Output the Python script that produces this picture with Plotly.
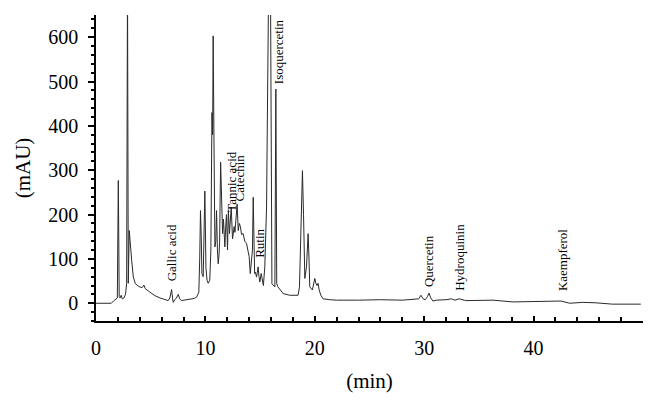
import plotly.graph_objects as go

# retention time (min) and detector signal (mAU)
time_min = [0.0, 1.4, 1.6, 1.8, 1.95, 2.04, 2.12, 2.2, 2.3, 2.4, 2.55, 2.7, 2.8, 2.88, 2.95,
            3.04, 3.15, 3.26, 3.41, 3.6, 3.9, 4.2, 4.38, 4.5, 4.93, 5.4, 5.84, 6.3, 6.6,
            6.75, 6.91, 7.0, 7.06, 7.2, 7.35, 7.52, 7.65, 7.8, 8.5, 9.0, 9.2, 9.4, 9.48,
            9.55, 9.62, 9.68, 9.8, 9.95, 10.05, 10.15, 10.26, 10.4, 10.5, 10.6, 10.66,
            10.71, 10.78, 10.87, 10.95, 11.02, 11.1, 11.17, 11.25, 11.3, 11.39, 11.48,
            11.57, 11.65, 11.78, 11.85, 11.93, 12.02, 12.1, 12.2, 12.28, 12.36, 12.48,
            12.55, 12.63, 12.7, 12.78, 12.9, 13.0, 13.1, 13.2, 13.3, 13.45, 13.6, 13.76,
            13.9, 14.0, 14.1, 14.2, 14.3, 14.37, 14.45, 14.5, 14.58, 14.67, 14.75, 14.82,
            14.9, 14.98, 15.1, 15.2, 15.3, 15.43, 15.59, 15.78, 15.95, 16.08, 16.2, 16.35,
            16.44, 16.52, 16.6, 17.1, 17.7, 18.2, 18.47, 18.6, 18.75, 18.87, 18.97, 19.09,
            19.24, 19.3, 19.39, 19.47, 19.54, 19.78, 19.9, 20.0, 20.1, 20.2, 20.3, 20.4,
            20.55, 20.76, 21.37, 22.0, 24.0, 26.0, 28.0, 29.0, 29.5, 29.7, 29.9, 30.1,
            30.3, 30.44, 30.6, 30.8, 31.1, 32.0, 32.5, 32.8, 33.2, 33.8, 35.0, 36.3, 38.1,
            40.0, 41.2, 42.5, 43.3, 44.5, 45.7, 47.2, 49.8]
signal_mau = [0, 0, 5, 10, 12, 277, 15, 12, 18, 10, 12, 20, 45, 720, 45,
              164, 120, 97, 59, 44, 38, 35, 41, 33, 25, 17, 12, 9, 6,
              12, 31, 10, 2, 8, 12, 20, 10, 6, 8, 11, 14, 25, 100,
              209, 150, 67, 60, 253, 80, 52, 45, 52, 120, 430, 380,
              603, 380, 127, 140, 209, 120, 89, 110, 140, 318, 200,
              157, 190, 127, 170, 200, 120, 209, 157, 190, 217, 145,
              165, 173, 160, 186, 224, 164, 180, 173, 155, 157, 140, 135,
              115, 105, 67, 89, 120, 239, 110, 67, 70, 59, 70, 82,
              60, 48, 67, 50, 40, 82, 217, 720, 720, 44, 40, 37,
              483, 45, 38, 22, 18, 17, 18, 37, 200, 299, 200, 56,
              82, 120, 157, 100, 37, 30, 45, 56, 45, 40, 45, 30,
              18, 10, 8, 7, 7, 8, 7, 8, 10, 18, 10, 8,
              15, 23, 12, 5, 7, 8, 10, 7, 10, 6, 7, 7, 3,
              4, 3, 5, 0, 2, 1, -2, -2]

# peak labels: name, time, height of the label's base
peak_names = ["Gallic acid", "Tannic acid", "Catechin", "Rutin", "Isoquercetin",
              "Quercetin", "Hydroquinin", "Kaempferol"]
peak_time = [6.9, 12.4, 13.2, 15.0, 16.7, 30.4, 33.2, 42.6]
peak_label_base = [45, 202, 225, 97, 490, 31, 23, 23]

x_ticks = [0, 10, 20, 30, 40]

serif = "Liberation Serif"

fig = go.Figure()
fig.add_trace(go.Scatter(x=time_min, y=signal_mau, mode="lines",
                         line=dict(color="#2a2a2a", width=1), showlegend=False))

for name, t, yb in zip(peak_names, peak_time, peak_label_base):
    fig.add_annotation(x=t, y=yb, text=name, textangle=-90, showarrow=False,
                       xanchor="center", yanchor="bottom",
                       font=dict(family=serif, size=13, color="black"))

fig.update_layout(
    width=657, height=400,
    margin=dict(l=96, r=14, t=15, b=79),
    plot_bgcolor="white", paper_bgcolor="white",
    font=dict(family=serif, color="black"),
    xaxis=dict(range=[0, 50], tickvals=x_ticks, showgrid=False, zeroline=False,
               showline=True, linecolor="black", linewidth=1.5, automargin=False,
               ticks="inside", ticklen=5, tickcolor="black", tickwidth=1.5,
               minor=dict(dtick=2, tick0=0, ticks="inside", ticklen=4,
                          tickcolor="black", tickwidth=1.5),
               tickfont=dict(family=serif, size=20), ticklabelstandoff=8,
               title=dict(text="(min)", font=dict(family=serif, size=21), standoff=16)),
    yaxis=dict(range=[-40, 650], dtick=100, tick0=0, showgrid=False, zeroline=False,
               showline=True, linecolor="black", linewidth=1.5, automargin=False,
               ticks="outside", ticklen=6, tickcolor="black", tickwidth=1.5,
               minor=dict(dtick=20, ticks="outside", ticklen=3, tickcolor="black", tickwidth=1.5),
               tickfont=dict(family=serif, size=20), ticklabelstandoff=6,
               title=dict(text="(mAU)", font=dict(family=serif, size=21), standoff=12)),
)

# page body has a default 8px margin; drop it so the figure sits at the window origin
fig.write_html("out.html", config={"displayModeBar": False},
               post_script="document.body.style.margin='0';")
